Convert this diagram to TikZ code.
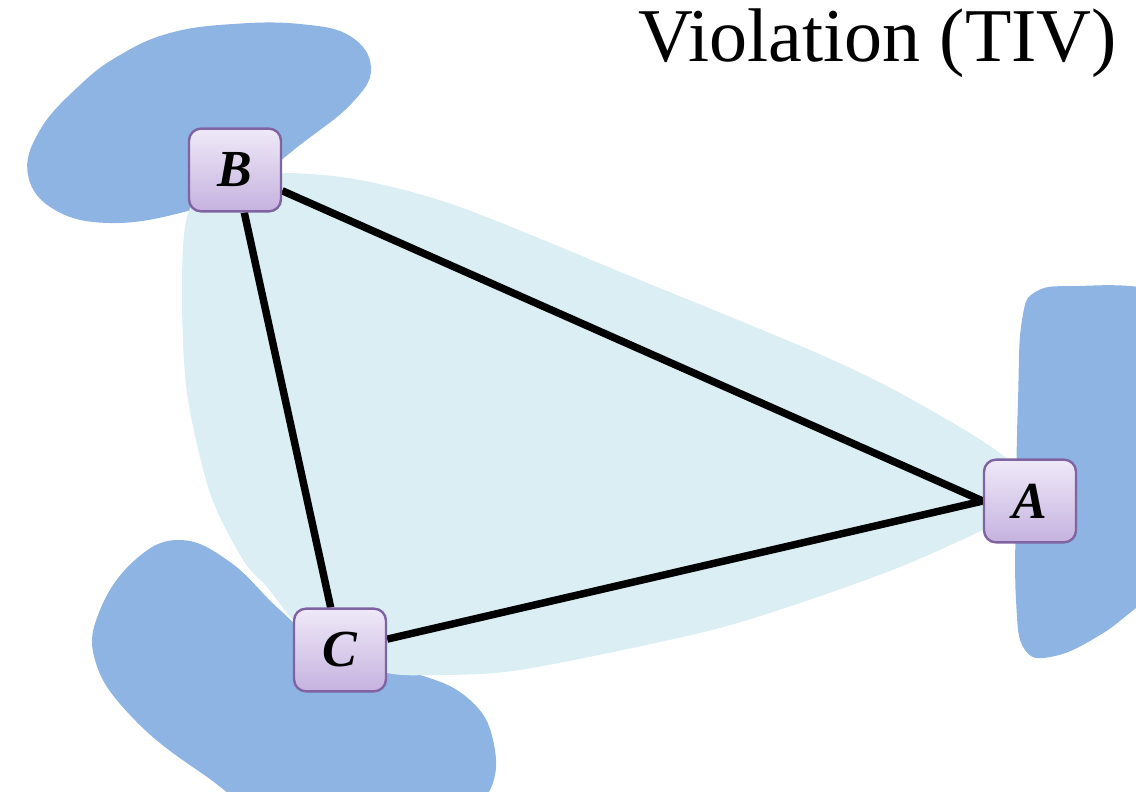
\documentclass[tikz,border=0pt]{standalone}
\usepackage{fontspec}
\setmainfont{Liberation Serif}
\usetikzlibrary{backgrounds}
\definecolor{blobblue}{HTML}{8EB4E3}
\definecolor{hullblue}{HTML}{DAEEF3}
\definecolor{nodeedge}{HTML}{8064A2}
\definecolor{nodetop}{HTML}{EFE9F8}
\definecolor{nodebot}{HTML}{C5B2DF}
\begin{document}
\begin{tikzpicture}[
    x=0.75pt, y=-0.75pt,
    vertex/.style={draw=nodeedge, line width=1.8pt, rounded corners=9pt, top color=nodetop, bottom color=nodebot, minimum width=69pt, minimum height=62pt, inner sep=0pt, font=\fontsize{39}{39}\selectfont\bfseries\itshape},
    link/.style={line width=5.6pt, black},
    blob/.style={fill=blobblue},
    hull/.style={fill=hullblue},
    title/.style={font=\fontsize{57}{57}\selectfont, anchor=base west, inner sep=0pt},
]
    \useasboundingbox (0,0) rectangle (1136,792);
    \clip (0,0) rectangle (1136,792);

    % ============= Title =============
    \node[title] (title) at (638,62) {Violation (TIV)};

    % ============= Vertices =============
    \node[vertex] (B) at (235,170) {B};
    \node[vertex] (A) at (1030,501) {A};
    \node[vertex] (C) at (340,650) {C};

    \begin{scope}[on background layer]
        % ============= Blobs round the vertices =============
        \fill[blob] plot[smooth cycle, tension=0.7] coordinates {(170,33) (233,24) (300,24) (350,36) (371,68) (352,103) (300,145) (240,190) (180,213) (110,223) (55,210) (28,175) (40,130) (80,85) (120,55)};
        \fill[blob] plot[smooth cycle, tension=0.7] coordinates {(1037,291) (1080,286) (1140,287) (1200,300) (1200,560) (1140,605) (1100,635) (1055,656) (1025,650) (1016,600) (1016,500) (1018,400) (1022,320)};
        \fill[blob] plot[smooth cycle, tension=0.7] coordinates {(180,540) (230,562) (280,610) (340,660) (420,675) (470,700) (493,740) (490,790) (450,830) (300,830) (200,772) (130,715) (95,660) (100,610) (135,560)};

        % ============= Hull =============
        \fill[hull] plot[smooth cycle] coordinates {(283,173) (360,180) (460,207) (640,280) (810,350) (900,393) (1000,453) (1040,500) (983,530) (900,567) (800,603) (700,633) (520,670) (430,675) (387,673) (330,655) (293,620) (267,587) (243,560) (210,493) (187,393) (182,293) (187,217) (215,180)};

        % ============= Edges =============
        \draw[link] (B) -- (A.west);
        \draw[link] (C) -- (A.west);
        \draw[link] (B) -- (C);
    \end{scope}
\end{tikzpicture}
\end{document}
